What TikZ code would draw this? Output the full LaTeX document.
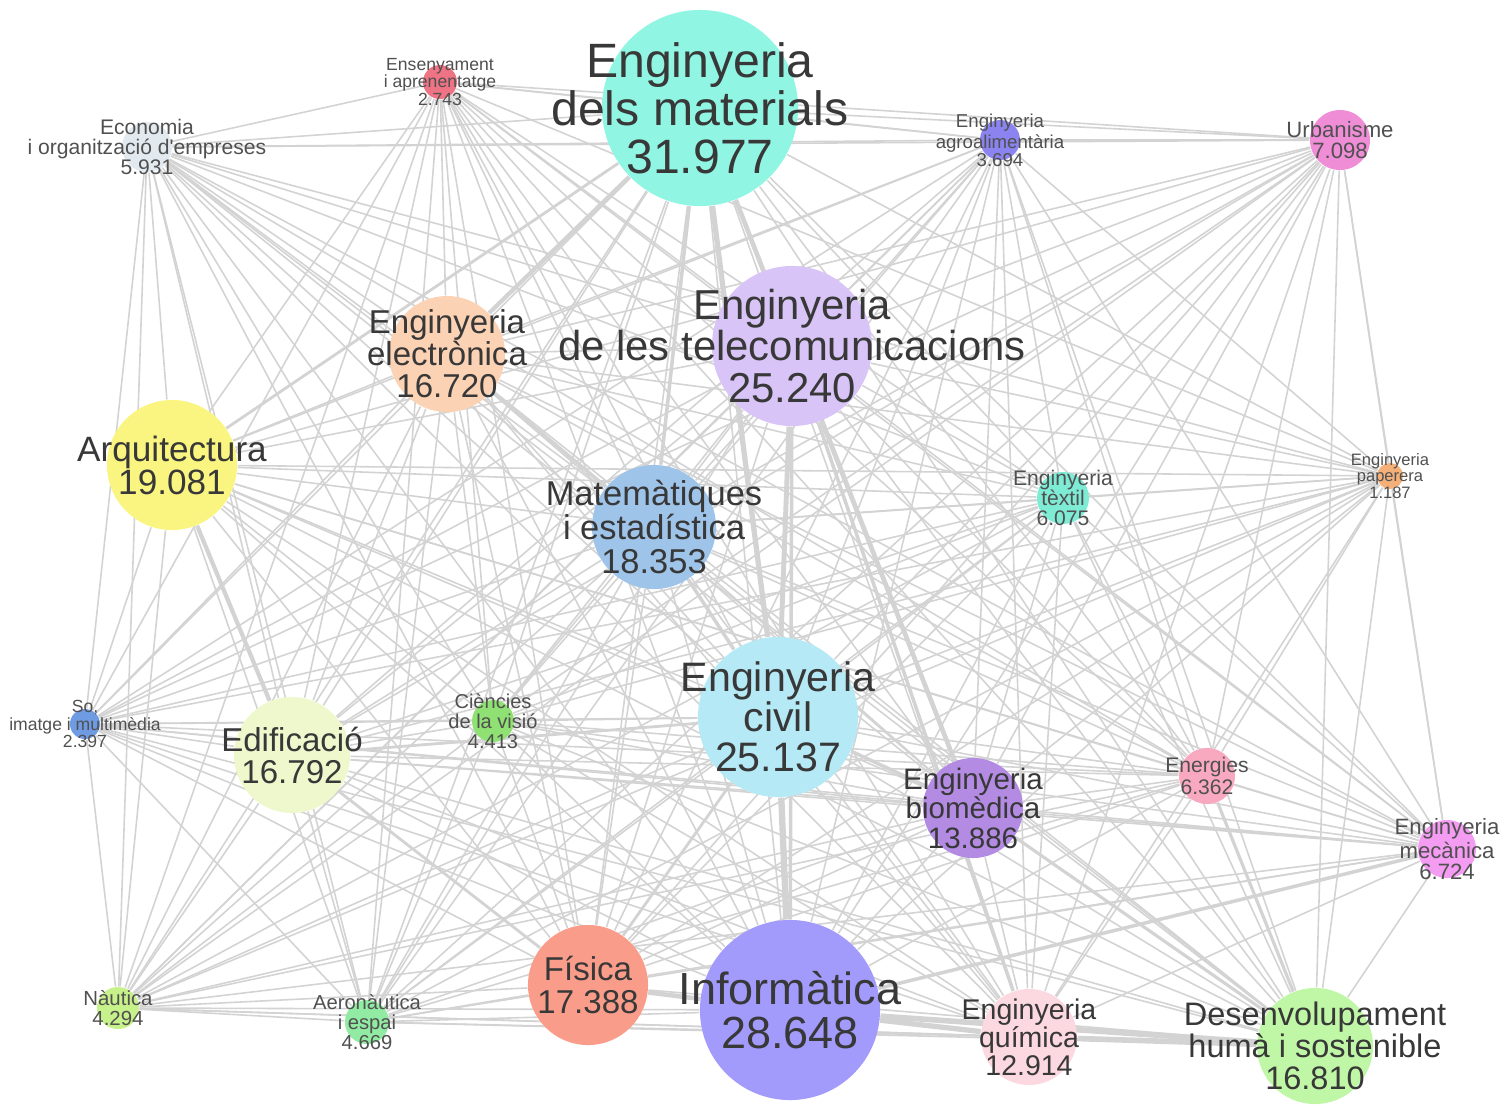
\documentclass[tikz,border=0pt]{standalone}
\usepackage{fontspec}
\setmainfont{Liberation Sans}
\usepackage{xcolor}
\usetikzlibrary{backgrounds}

\definecolor{cmat}{HTML}{90F5E3}
\definecolor{ctel}{HTML}{D8C4F7}
\definecolor{cciv}{HTML}{B5E9F5}
\definecolor{cinf}{HTML}{A29BFB}
\definecolor{cele}{HTML}{FCD2B4}
\definecolor{carq}{HTML}{FAF480}
\definecolor{cmae}{HTML}{9FC4EA}
\definecolor{cedi}{HTML}{EEF8CC}
\definecolor{cfis}{HTML}{FA9C8A}
\definecolor{cbio}{HTML}{B38BE3}
\definecolor{cqui}{HTML}{FCD8E0}
\definecolor{cdes}{HTML}{C0F7A6}
\definecolor{ceco}{HTML}{E2EAF0}
\definecolor{cens}{HTML}{EE7384}
\definecolor{cagr}{HTML}{8B84F0}
\definecolor{curb}{HTML}{EF8DD6}
\definecolor{cpap}{HTML}{F4B078}
\definecolor{ctex}{HTML}{7EEBD5}
\definecolor{cso}{HTML}{6E9BE2}
\definecolor{ccie}{HTML}{8FE173}
\definecolor{cene}{HTML}{F8A9BF}
\definecolor{cmec}{HTML}{F39CF2}
\definecolor{cnau}{HTML}{C7F18A}
\definecolor{caer}{HTML}{92EBA3}
\definecolor{labelgray}{HTML}{383838}
\definecolor{smallgray}{HTML}{505050}
\definecolor{linkgray}{HTML}{D3D3D3}

\def\allnodes{mat,tel,civ,inf,ele,arq,mae,edi,fis,bio,qui,des,eco,ens,agr,urb,pap,tex,so,cie,ene,mec,nau,aer}

\begin{document}
\begin{tikzpicture}[x=0.01cm,y=-0.01cm,
dot node/.style={circle,inner sep=0pt,draw=none},
label node/.style 2 args={align=center,text=labelgray,inner sep=0pt,font=\fontsize{#1pt}{#2pt}\selectfont},
small node/.style 2 args={label node={#1}{#2},text=smallgray},
link/.style={draw=linkgray,line width=0.45pt}]

\useasboundingbox (0,0) rectangle (1511,1105);

% circles
\node[dot node,fill=cmat,minimum size=1.96cm] (mat) at (700,108) {};
\node[dot node,fill=ctel,minimum size=1.60cm] (tel) at (792,346) {};
\node[dot node,fill=cciv,minimum size=1.60cm] (civ) at (778,717) {};
\node[dot node,fill=cinf,minimum size=1.80cm] (inf) at (790,1010) {};
\node[dot node,fill=cele,minimum size=1.16cm] (ele) at (447,354) {};
\node[dot node,fill=carq,minimum size=1.30cm] (arq) at (172,465) {};
\node[dot node,fill=cmae,minimum size=1.24cm] (mae) at (654,527) {};
\node[dot node,fill=cedi,minimum size=1.16cm] (edi) at (292,755) {};
\node[dot node,fill=cfis,minimum size=1.20cm] (fis) at (588,985) {};
\node[dot node,fill=cbio,minimum size=1.00cm] (bio) at (973,808) {};
\node[dot node,fill=cqui,minimum size=0.96cm] (qui) at (1029,1037) {};
\node[dot node,fill=cdes,minimum size=1.16cm] (des) at (1315,1046) {};
\node[dot node,fill=ceco,minimum size=0.50cm] (eco) at (147,147) {};
\node[dot node,fill=cens,minimum size=0.34cm] (ens) at (440,82) {};
\node[dot node,fill=cagr,minimum size=0.40cm] (agr) at (1000,140) {};
\node[dot node,fill=curb,minimum size=0.60cm] (urb) at (1340,140) {};
\node[dot node,fill=cpap,minimum size=0.26cm] (pap) at (1390,476) {};
\node[dot node,fill=ctex,minimum size=0.52cm] (tex) at (1063,498) {};
\node[dot node,fill=cso,minimum size=0.30cm] (so) at (85,724) {};
\node[dot node,fill=ccie,minimum size=0.42cm] (cie) at (493,721) {};
\node[dot node,fill=cene,minimum size=0.56cm] (ene) at (1207,776) {};
\node[dot node,fill=cmec,minimum size=0.58cm] (mec) at (1447,849) {};
\node[dot node,fill=cnau,minimum size=0.42cm] (nau) at (118,1008) {};
\node[dot node,fill=caer,minimum size=0.44cm] (aer) at (367,1022) {};

% links
\begin{pgfonlayer}{background}
\foreach \a [count=\i] in \allnodes {
  \foreach \b [count=\j] in \allnodes {
    \ifnum\j>\i \draw[link] (\a) -- (\b); \fi
  }
}
\foreach \a/\b/\w in {civ/inf/1.8,tel/civ/1.4,mat/civ/1.5,mat/bio/1.3,tel/bio/1.1,
  tel/qui/1.0,mat/mae/1.0,mat/ele/1.2,mat/tel/1.0,inf/qui/1.5,inf/des/1.6,
  qui/des/1.6,fis/inf/1.3,arq/edi/1.2,ele/mae/1.0,mae/civ/1.0,civ/bio/1.0,
  inf/mec/1.0,bio/des/0.9,ene/des/0.9,edi/fis/0.8,fis/civ/0.8,mat/arq/0.8,
  tel/inf/1.0,edi/civ/0.8}
  \draw[link,line width=\w pt] (\a) -- (\b);
\end{pgfonlayer}

% labels
\node[label node={13.7}{13.7}] at (mat) {Enginyeria\\dels materials\\31.977};
\node[label node={11.9}{11.7}] at (tel) {Enginyeria\\de les telecomunicacions\\25.240};
\node[label node={11.7}{11.4}] at (civ) {Enginyeria\\civil\\25.137};
\node[label node={12.8}{12.5}] at (inf) {Informàtica\\28.648};
\node[label node={9.4}{9.1}] at (ele) {Enginyeria\\electrònica\\16.720};
\node[label node={10.0}{9.4}] at (arq) {Arquitectura\\19.081};
\node[label node={9.8}{9.7}] at (mae) {Matemàtiques\\i estadística\\18.353};
\node[label node={9.4}{9.1}] at (edi) {Edificació\\16.792};
\node[label node={9.4}{9.4}] at (fis) {Física\\17.388};
\node[label node={8.4}{8.4}] at (bio) {Enginyeria\\biomèdica\\13.886};
\node[label node={8.1}{8.0}] at (qui) {Enginyeria\\química\\12.914};
\node[label node={9.25}{9.1}] at (des) {Desenvolupament\\humà i sostenible\\16.810};
\node[small node={6.0}{5.8}] at (eco) {Economia\\i organització d\textquotesingle empreses\\5.931};
\node[small node={5.0}{5.0}] at (ens) {Ensenyament\\i aprenentatge\\2.743};
\node[small node={5.3}{5.0}] at (agr) {Enginyeria\\agroalimentària\\3.694};
\node[small node={6.3}{6.0}] at (urb) {Urbanisme\\7.098};
\node[small node={4.7}{4.6}] at (pap) {Enginyeria\\paperera\\1.187};
\node[small node={6.0}{5.8}] at (tex) {Enginyeria\\tèxtil\\6.075};
\node[small node={5.0}{5.0}] at (so) {So,\\imatge i multimèdia\\2.397};
\node[small node={5.7}{5.7}] at (cie) {Ciències\\de la visió\\4.413};
\node[small node={6.0}{6.3}] at (ene) {Energies\\6.362};
\node[small node={6.3}{5.8}] at (mec) {Enginyeria\\mecànica\\6.724};
\node[small node={5.8}{5.7}] at (nau) {Nàutica\\4.294};
\node[small node={5.75}{5.7}] at (aer) {Aeronàutica\\i espai\\4.669};
\end{tikzpicture}
\end{document}
